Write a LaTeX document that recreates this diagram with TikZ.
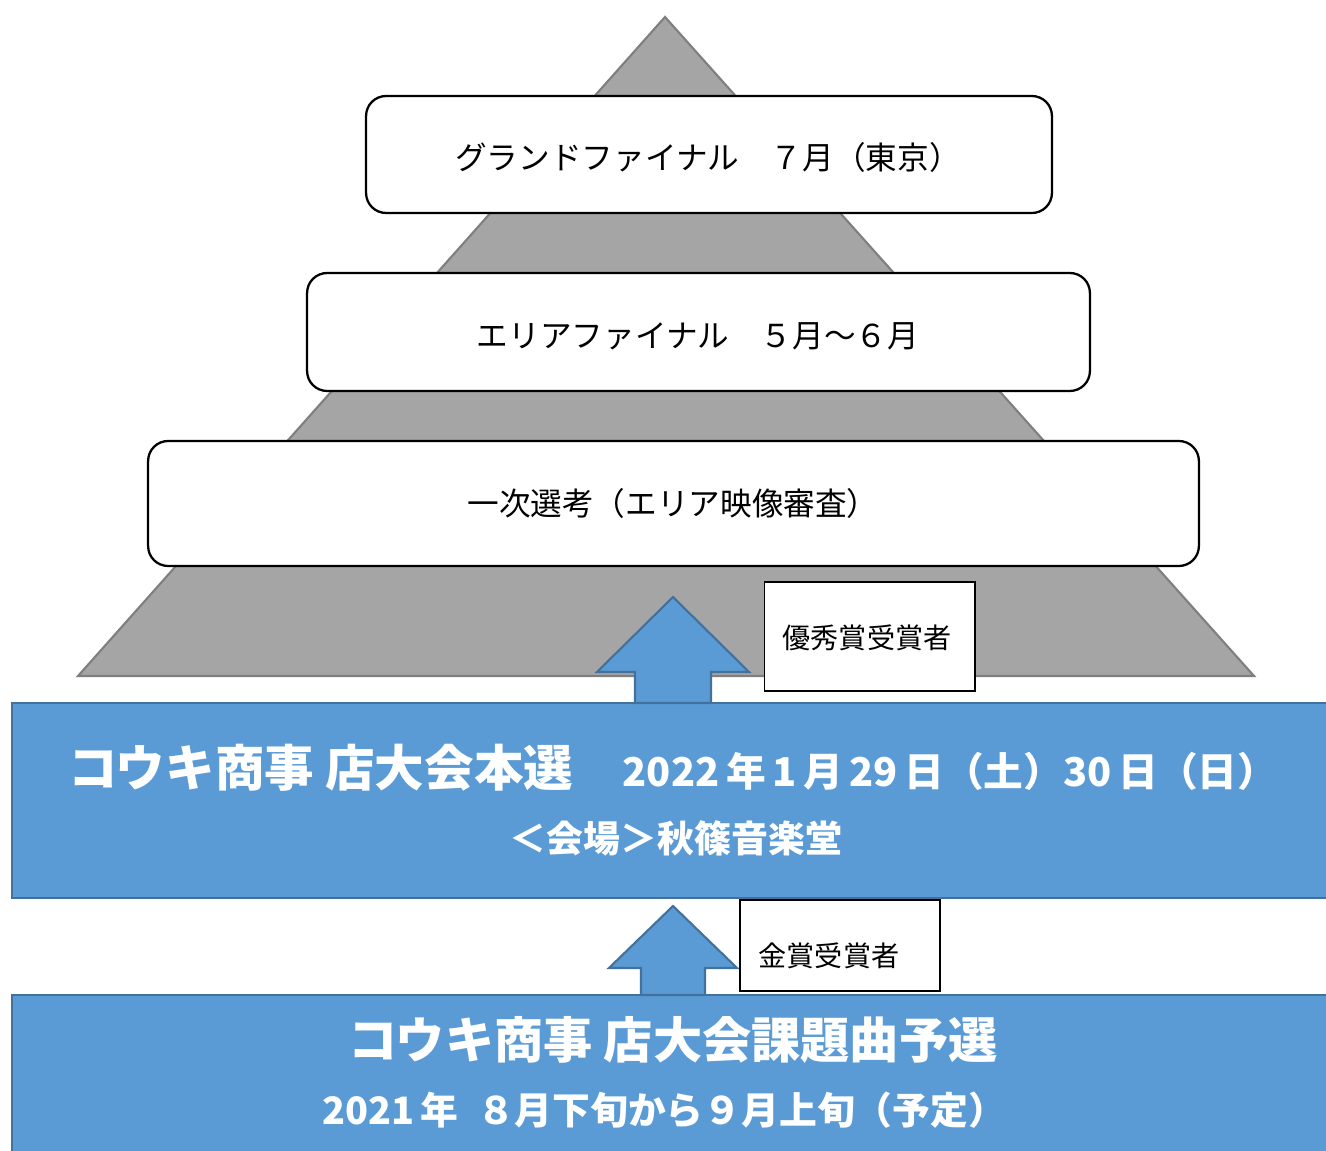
\documentclass[tikz,border=0pt]{standalone}
\usepackage{fontspec}
\newfontfamily\jpfont{Noto Sans CJK JP}
\usetikzlibrary{positioning}
\definecolor{pyramidgray}{HTML}{A5A5A5}
\definecolor{pyramidedge}{HTML}{7F7F7F}
\definecolor{bandblue}{HTML}{5B9BD5}
\definecolor{bandedge}{HTML}{41719C}
\newcommand{\bigjp}{\fontsize{28.2pt}{31pt}\selectfont}
\newcommand{\datejp}{\fontsize{22.6pt}{25pt}\selectfont}

\begin{document}
\begin{tikzpicture}[x=0.02cm, y=-0.02cm,
	every node/.style={font=\jpfont, inner sep=0pt},
	stagebox/.style={draw=black, line width=1.3pt, rounded corners=0.4cm, fill=white},
	stagetext/.style={font=\jpfont\fontsize{18pt}{20pt}\selectfont},
	band/.style={fill=bandblue, draw=bandedge, line width=1.2pt},
	bandtitle/.style={text=white, font=\jpfont\bfseries\fontsize{28pt}{31pt}\selectfont},
	bandsub/.style={text=white, font=\jpfont\bfseries\fontsize{21.5pt}{24pt}\selectfont},
	award/.style={draw=black, line width=0.6pt, fill=white},
	awardtext/.style={font=\jpfont\fontsize{16pt}{18pt}\selectfont},
	uparrow/.style={fill=bandblue, draw=bandedge, line width=1.2pt}]

	\useasboundingbox (0,0) rectangle (1326,1151);
	\clip (0,0) rectangle (1326,1151);

	% 三角形
	\filldraw[fill=pyramidgray, draw=pyramidedge, line width=1.2pt]
		(665,17) -- (1254,676) -- (78,676) -- cycle;

	% 三段の枠
	\node[stagebox, minimum width=13.72cm, minimum height=2.34cm] (grand) at (709,154.5) {};
	\node[stagetext] (grandtext) at (708,157) {グランドファイナル　７月（東京）};
	\node[stagebox, minimum width=15.66cm, minimum height=2.36cm] (area) at (698.5,332) {};
	\node[stagetext] (areatext) at (698,336) {エリアファイナル　５月～６月};
	\node[stagebox, minimum width=21.02cm, minimum height=2.5cm] (first) at (673.5,503.5) {};
	\node[stagetext] (firsttext) at (673,503) {一次選考（エリア映像審査）};

	% 青い帯
	\node[band, anchor=north west, minimum width=26.8cm, minimum height=3.9cm] (honsen) at (11,702) {};
	\node[text=white, font=\jpfont\bfseries, anchor=base west] (honsentitle) at (68,787)
		{\bigjp コウキ商事 店大会本選　\datejp 2022\,年\,1\,月\,29\,日（土）30\,日（日）};
	\node[bandsub, font=\jpfont\bfseries\fontsize{21pt}{24pt}\selectfont] (venue) at (676,838) {＜会場＞秋篠音楽堂};

	\node[band, anchor=north west, minimum width=26.8cm, minimum height=3.6cm] (yosen) at (11,994) {};
	\node[bandtitle] (yosentitle) at (673,1040) {コウキ商事 店大会課題曲予選};
	\node[bandsub] (period) at (664,1110) {2021\,年\enspace８月下旬から９月上旬（予定）};

	% 矢印
	\filldraw[uparrow] (673,597) -- (749,672) -- (711,672) -- (711,703)
		-- (635,703) -- (635,672) -- (597,672) -- cycle;
	\filldraw[uparrow] (673,906) -- (737,968) -- (705,968) -- (705,995)
		-- (641,995) -- (641,968) -- (609,968) -- cycle;

	% 受賞者
	\node[award, minimum width=4.22cm, minimum height=2.18cm] (yushu) at (869.5,636.5) {};
	\node[awardtext] (yushutext) at (867,638) {優秀賞受賞者};
	\node[award, minimum width=4cm, minimum height=1.82cm] (kinsho) at (840,945.5) {};
	\node[awardtext] (kinshotext) at (829,956) {金賞受賞者};

\end{tikzpicture}
\end{document}
